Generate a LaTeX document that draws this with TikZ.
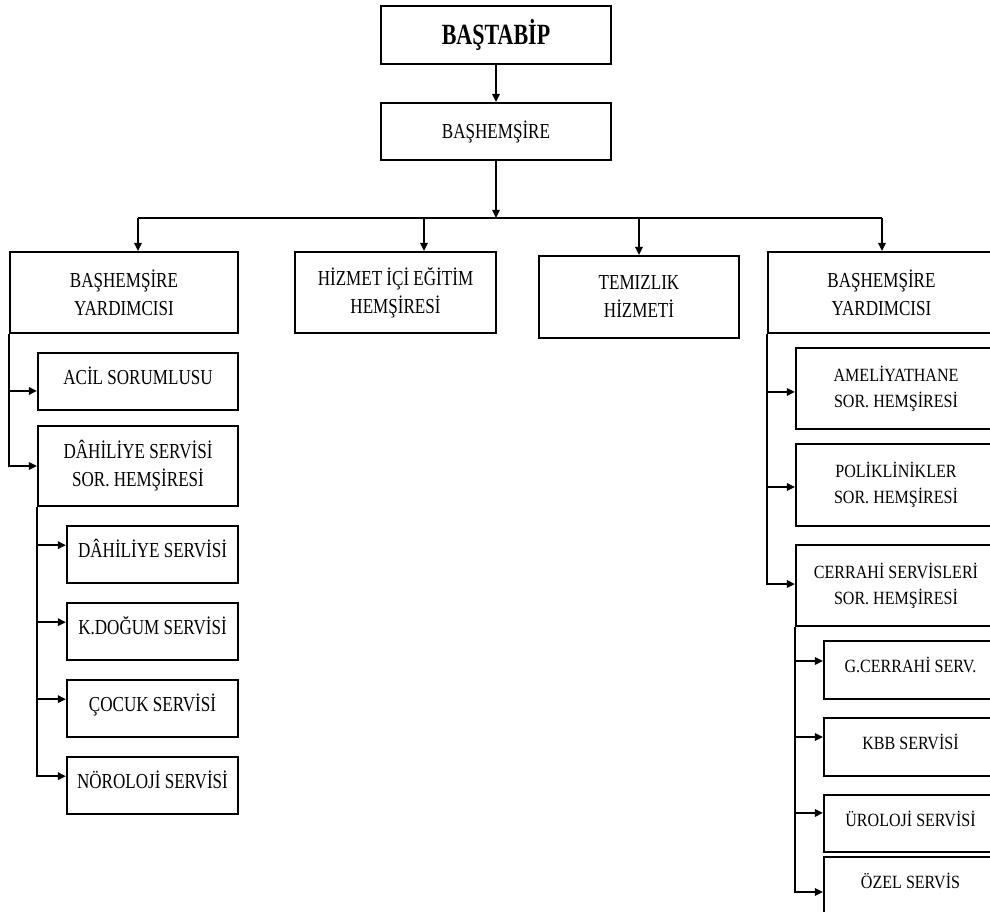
\documentclass[tikz,border=0pt]{standalone}
\usepackage{fontspec}
\setmainfont{Liberation Serif}
\newfontfamily\condfont[FakeStretch=0.8]{Liberation Serif}
\newfontfamily\tcondfont[FakeStretch=0.75]{Liberation Serif}
\newfontfamily\rcondfont[FakeStretch=0.86]{Liberation Serif}
\usetikzlibrary{arrows.meta,calc}
\begin{document}
\begin{tikzpicture}[x=0.75pt,y=-0.75pt,
  box/.style={draw=black, line width=1.6pt, inner sep=0pt, align=center, text=black,
              font=\condfont\fontsize{16}{21}\selectfont},
  rbox/.style={box, font=\rcondfont\fontsize{14}{19.5}\selectfont},
  sl/.style={text height=10.6pt, text depth=6pt},
  rsl/.style={text height=9.3pt, text depth=5.2pt},
  bw/.style={minimum width=#1*0.75pt},
  bhgt/.style={minimum height=#1*0.75pt},
  conn/.style={line width=1.4pt},
  arr/.style={conn, -{Triangle[length=6pt,width=5.5pt]}}]
\clip (0,0) rectangle (990,912);
\fill[white] (0,0) rectangle (990,912);

% top
\node[box,bw=230,bhgt=58,font=\tcondfont\bfseries\fontsize{22}{26}\selectfont] (bt) at (496,35) {BAŞTABİP};
\node[box,bw=230,bhgt=57] (bh) at (496,131.5) {BAŞHEMŞİRE};

% second level
\node[box,bw=228,bhgt=81] (y1) at (124,292.5) {BAŞHEMŞİRE\\YARDIMCISI};
\node[box,bw=201,bhgt=81] (hz) at (395.5,292.5) {HİZMET İÇİ EĞİTİM\\HEMŞİRESİ};
\node[box,bw=200,bhgt=82] (tm) at (639,297) {TEMIZLIK\\HİZMETİ};
\node[box,bw=227,bhgt=81] (y2) at (881.5,292.5) {BAŞHEMŞİRE\\YARDIMCISI};

% left column
\node[box,sl,bw=200,bhgt=57] (acil) at (138,381.5) {ACİL SORUMLUSU};
\node[box,bw=200,bhgt=80] (dsor) at (138,466) {DÂHİLİYE SERVİSİ\\SOR. HEMŞİRESİ};
\node[box,sl,bw=171,bhgt=57] (d1) at (152.5,554.5) {DÂHİLİYE SERVİSİ};
\node[box,sl,bw=171,bhgt=57] (d2) at (152.5,631.5) {K.DOĞUM SERVİSİ};
\node[box,sl,bw=171,bhgt=57] (d3) at (152.5,708.5) {ÇOCUK SERVİSİ};
\node[box,sl,bw=171,bhgt=57] (d4) at (152.5,785.5) {NÖROLOJİ SERVİSİ};

% right column
\node[rbox,bw=200,bhgt=81] (amel) at (896,388.5) {AMELİYATHANE\\SOR. HEMŞİRESİ};
\node[rbox,bw=200,bhgt=82] (pol) at (896,485) {POLİKLİNİKLER\\SOR. HEMŞİRESİ};
\node[rbox,bw=200,bhgt=81] (cer) at (896,585.5) {CERRAHİ SERVİSLERİ\\SOR. HEMŞİRESİ};
\node[rbox,rsl,bw=173,bhgt=58] (g) at (910.5,670) {G.CERRAHİ SERV.};
\node[rbox,rsl,bw=173,bhgt=58] (kbb) at (910.5,747) {KBB SERVİSİ};
\node[rbox,rsl,bw=173,bhgt=57] (uro) at (910.5,823.5) {ÜROLOJİ SERVİSİ};
\node[rbox,rsl,bw=173,bhgt=58] (ozel) at (910.5,886) {ÖZEL SERVİS};

% bar
\coordinate (b1) at (138,218);
\coordinate (b2) at (424,218);
\coordinate (b3) at (639,218);
\coordinate (b4) at (882,218);

\draw[arr] (bt.south) -- (bh.north);
\draw[arr] (bh.south) -- (bh.south |- b1);
\draw[conn] (b1) -- (b4);
\draw[arr] (b1) -- (b1 |- y1.north);
\draw[arr] (b2) -- (b2 |- hz.north);
\draw[arr] (b3) -- (b3 |- tm.north);
\draw[arr] (b4) -- (b4 |- y2.north);

% left links
\draw[arr] (y1.south west) |- ([yshift=-7.1pt]acil.west);
\draw[arr] (y1.south west) |- (dsor.west);
\draw[arr] (dsor.south west) |- ([yshift=7pt]d1.west);
\draw[arr] (dsor.south west) |- ([yshift=7pt]d2.west);
\draw[arr] (dsor.south west) |- ([yshift=7pt]d3.west);
\draw[arr] (dsor.south west) |- ([yshift=7pt]d4.west);

% right links
\draw[arr] (y2.south west) |- ([yshift=-2.6pt]amel.west);
\draw[arr] (y2.south west) |- ([yshift=-1.5pt]pol.west);
\draw[arr] (y2.south west) |- ([yshift=1.1pt]cer.west);
\draw[arr] (cer.south west) |- ([yshift=6.75pt]g.west);
\draw[arr] (cer.south west) |- ([yshift=7.5pt]kbb.west);
\draw[arr] (cer.south west) |- ([yshift=7.9pt]uro.west);
\draw[arr] (cer.south west) |- ([yshift=-4.5pt]ozel.west);
\end{tikzpicture}
\end{document}
